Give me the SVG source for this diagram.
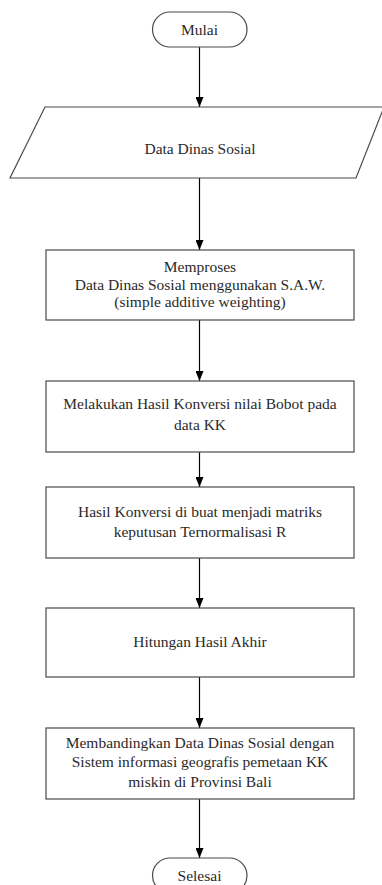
<svg xmlns="http://www.w3.org/2000/svg" width="382" height="885" viewBox="0 0 382 885">
<defs>
<marker id="ah" viewBox="0 0 10 8" refX="10" refY="4" markerWidth="10" markerHeight="8" markerUnits="userSpaceOnUse" orient="auto">
<path d="M0,0 L10,4 L0,8 Z" fill="#000"/>
</marker>
<style>
.shape{fill:#fff;stroke:#4a4a4a;stroke-width:1.2}
.t{font-family:"Liberation Serif","Times New Roman",serif;font-size:15.5px;fill:#2a2a2a;text-anchor:middle}
.c{stroke:#000;stroke-width:1.2;fill:none;marker-end:url(#ah)}
</style>
</defs>
<rect width="382" height="885" fill="#fff"/>
<g id="connectors">
<line class="c" x1="199.5" y1="47" x2="199.5" y2="107"/>
<line class="c" x1="199.5" y1="178" x2="199.5" y2="250"/>
<line class="c" x1="199.5" y1="320" x2="199.5" y2="381"/>
<line class="c" x1="199.5" y1="452" x2="199.5" y2="487"/>
<line class="c" x1="199.5" y1="558" x2="199.5" y2="608"/>
<line class="c" x1="199.5" y1="677" x2="199.5" y2="728"/>
<line class="c" x1="199.5" y1="799" x2="199.5" y2="858"/>
</g>
<g id="mulai">
<rect class="shape" x="152.5" y="12" width="94.5" height="35" rx="17.5"/>
<text class="t" x="199.5" y="34.5">Mulai</text>
</g>
<g id="data">
<polygon class="shape" points="45,107 384,107 356,178 10,178"/>
<text class="t" x="200" y="154">Data Dinas Sosial</text>
</g>
<g id="proses">
<rect class="shape" x="46" y="250" width="308" height="70"/>
<text class="t" x="200" y="271.5">Memproses</text>
<text class="t" x="200" y="289.5">Data Dinas Sosial menggunakan S.A.W.</text>
<text class="t" x="200" y="307">(simple additive weighting)</text>
</g>
<g id="konversi">
<rect class="shape" x="46" y="381" width="308" height="71"/>
<text class="t" x="200" y="409">Melakukan Hasil Konversi nilai Bobot pada</text>
<text class="t" x="200" y="430">data KK</text>
</g>
<g id="matriks">
<rect class="shape" x="46" y="487" width="308" height="71"/>
<text class="t" x="200" y="517">Hasil Konversi di buat menjadi matriks</text>
<text class="t" x="200" y="537">keputusan Ternormalisasi R</text>
</g>
<g id="hitungan">
<rect class="shape" x="46" y="608" width="308" height="69"/>
<text class="t" x="200" y="647">Hitungan Hasil Akhir</text>
</g>
<g id="membandingkan">
<rect class="shape" x="46" y="728" width="308" height="71"/>
<text class="t" x="200" y="748">Membandingkan Data Dinas Sosial dengan</text>
<text class="t" x="200" y="767">Sistem informasi geografis pemetaan KK</text>
<text class="t" x="200" y="787">miskin di Provinsi Bali</text>
</g>
<g id="selesai">
<rect class="shape" x="152.5" y="858" width="94.5" height="35" rx="17.5"/>
<text class="t" x="199.5" y="881">Selesai</text>
</g>
</svg>
